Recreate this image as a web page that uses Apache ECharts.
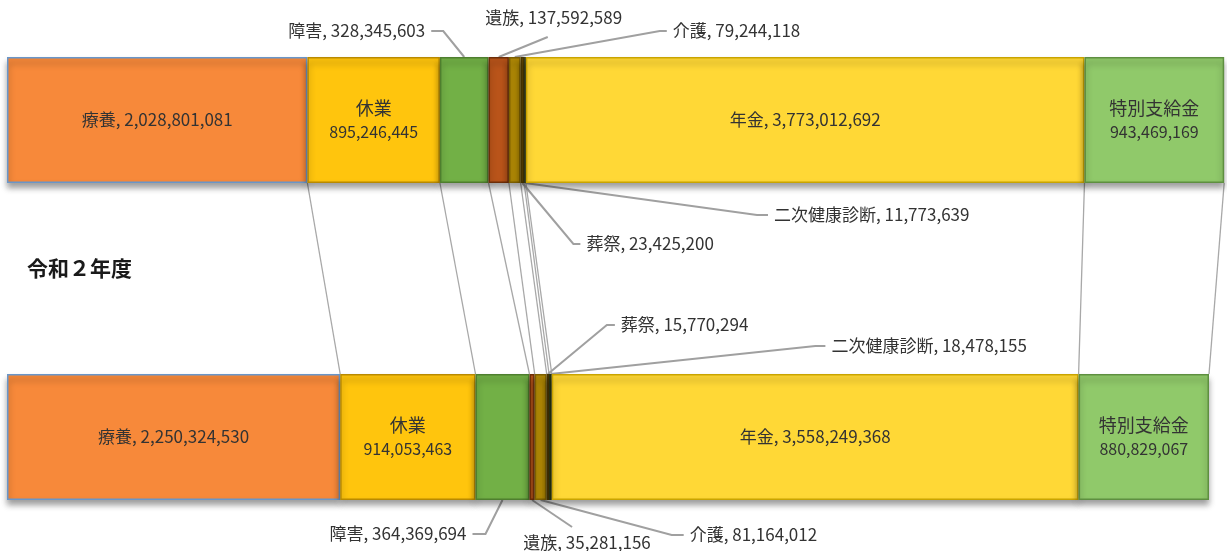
<!DOCTYPE html>
<html>
<head>
<meta charset="utf-8">
<script src="https://cdn.jsdelivr.net/npm/echarts@6/dist/echarts.min.js"></script>
<style>
  html, body { margin: 0; padding: 0; background: #ffffff; }
  #chart { width: 1227px; height: 551px; }
</style>
</head>
<body>
<div id="chart"></div>
<script>
// Benefit categories, in stacking order (left to right)
const categories = ['療養', '休業', '障害', '遺族', '介護', '葬祭', '二次健康診断', '年金', '特別支給金'];
// Upper bar amounts (yen)
const upperValues = [2028801081, 895246445, 328345603, 137592589, 79244118, 23425200, 11773639, 3773012692, 943469169];
// Lower bar amounts (yen)
const lowerValues = [2250324530, 914053463, 364369694, 35281156, 81164012, 15770294, 18478155, 3558249368, 880829067];
// Row keys for the category axis (upper bar first)
const rowKeys = ['upper', 'lower'];
// Caption drawn between the bars
const periodLabel = '令和２年度';

// Segment fill and edge colours, per category
const fillColors = ['#F7893A', '#FFC50D', '#72B046', '#B9541A', '#B38B06', '#7A5C0C', '#3E4D1C', '#FFD836', '#90C96A'];
const edgeColors = ['#6A96C8', '#B98A00', '#4E7F2E', '#6E2E08', '#7C5F00', '#4A3705', '#27310F', '#C9A400', '#5E8F40'];

const FONT = '"Noto Sans CJK JP", "Noto Sans", sans-serif';
const TEXT_COLOR = '#333333';
const BAR_H = 126;

const fmt = v => v.toLocaleString('en-US');

function cumulative(vals) {
  const out = [0];
  vals.forEach(v => out.push(out[out.length - 1] + v));
  return out;
}
const upperCum = cumulative(upperValues);
const lowerCum = cumulative(lowerValues);
const rowValues = [upperValues, lowerValues];
const rowCum = [upperCum, lowerCum];

// Label styles for segments wide enough to hold their text
const insideLabels = { 0: 'single', 1: 'double', 7: 'single', 8: 'double' };

// Outside labels: segment, row, which bar edge, and guide-line offsets (px) from the edge midpoint
const callouts = [
  { seg: 2, row: 0, side: 'top',    bend: [-21, -26], tip: [-33, -26], text: [-39, -26], align: 'right' },
  { seg: 3, row: 0, side: 'top',    bend: [49, -20],  tip: [49, -20],  text: [55, -39],  align: 'center' },
  { seg: 4, row: 0, side: 'top',    bend: [145, -26], tip: [152, -26], text: [158, -26], align: 'left' },
  { seg: 5, row: 0, side: 'bottom', bend: [51, 61],   tip: [58, 61],   text: [64, 61],   align: 'left' },
  { seg: 6, row: 0, side: 'bottom', bend: [232, 32],  tip: [243, 32],  text: [249, 32],  align: 'left' },
  { seg: 5, row: 1, side: 'top',    bend: [59, -49],  tip: [67, -49],  text: [73, -49],  align: 'left' },
  { seg: 6, row: 1, side: 'top',    bend: [265, -28], tip: [275, -28], text: [281, -28], align: 'left' },
  { seg: 2, row: 1, side: 'bottom', bend: [-17, 34],  tip: [-30, 34],  text: [-36, 34],  align: 'right' },
  { seg: 3, row: 1, side: 'bottom', bend: [40, 27],   tip: [40, 27],   text: [55, 43],   align: 'center' },
  { seg: 4, row: 1, side: 'bottom', bend: [131, 35],  tip: [143, 35],  text: [149, 35],  align: 'left' }
];

function segmentLabel(i) {
  const kind = insideLabels[i];
  if (!kind) return { show: false };
  if (kind === 'single') {
    return {
      show: true, position: 'inside', color: TEXT_COLOR, fontFamily: FONT, fontSize: 17,
      formatter: p => categories[i] + ', ' + fmt(p.value)
    };
  }
  return {
    show: true, position: 'inside', color: TEXT_COLOR, fontFamily: FONT,
    formatter: p => '{n|' + categories[i] + '}\n{v|' + fmt(p.value) + '}',
    rich: {
      n: { fontSize: 18, lineHeight: 23, color: TEXT_COLOR, fontFamily: FONT },
      v: { fontSize: 16, lineHeight: 23, color: TEXT_COLOR, fontFamily: FONT }
    }
  };
}

const barSeries = categories.map((name, i) => ({
  type: 'bar',
  name: name,
  stack: 'total',
  barWidth: BAR_H,
  clip: false,
  z: 3,
  data: [upperValues[i], lowerValues[i]],
  itemStyle: {
    color: fillColors[i],
    borderColor: edgeColors[i],
    borderWidth: 1.5,
    shadowColor: 'rgba(0,0,0,0.38)',
    shadowBlur: 6,
    shadowOffsetY: 5
  },
  label: segmentLabel(i),
  emphasis: { disabled: true },
  silent: true
}));

// Lines joining matching segment boundaries of the two bars
const connectorData = [];
for (let k = 1; k < upperCum.length; k++) {
  connectorData.push([upperCum[k], lowerCum[k], 0]);
}
const connectorSeries = {
  type: 'custom',
  z: 1,
  silent: true,
  clip: false,
  encode: { x: [0, 1], y: 2 },
  data: connectorData,
  renderItem: (params, api) => {
    const a = api.coord([api.value(0), 0]);
    const b = api.coord([api.value(1), 1]);
    return {
      type: 'line',
      shape: { x1: a[0], y1: a[1] + BAR_H / 2, x2: b[0], y2: b[1] - BAR_H / 2 },
      style: { stroke: '#A8A8A8', lineWidth: 1.3 }
    };
  }
};

// Outside labels with guide lines
const calloutData = callouts.map((c, idx) => [rowCum[c.row][c.seg], rowCum[c.row][c.seg + 1], c.row, idx]);
const calloutSeries = {
  type: 'custom',
  z: 2,
  silent: true,
  clip: false,
  encode: { x: [0, 1], y: 2 },
  data: calloutData,
  renderItem: (params, api) => {
    const c = callouts[api.value(3)];
    const p = api.coord([(api.value(0) + api.value(1)) / 2, api.value(2)]);
    const ax = p[0];
    const ay = c.side === 'top' ? p[1] - BAR_H / 2 : p[1] + BAR_H / 2;
    const value = rowValues[c.row][c.seg];
    return {
      type: 'group',
      children: [
        {
          type: 'polyline',
          shape: { points: [[ax, ay], [ax + c.bend[0], ay + c.bend[1]], [ax + c.tip[0], ay + c.tip[1]]] },
          style: { stroke: '#A0A0A0', lineWidth: 2, fill: null }
        },
        {
          type: 'text',
          style: {
            text: categories[c.seg] + ', ' + fmt(value),
            x: ax + c.text[0], y: ay + c.text[1],
            align: c.align, verticalAlign: 'middle',
            fontFamily: FONT, fontSize: 17, fill: TEXT_COLOR
          }
        }
      ]
    };
  }
};

const chart = echarts.init(document.getElementById('chart'), null, { renderer: 'canvas' });
chart.setOption({
  backgroundColor: '#ffffff',
  animation: false,
  // bar centres sit on the two category ticks (y = 120 and y = 437)
  grid: { left: 7, width: 1220, top: 120, height: 317, outerBoundsMode: 'none', containLabel: false },
  xAxis: { type: 'value', min: 0, max: 8240000000, show: false },
  yAxis: { type: 'category', data: rowKeys, inverse: true, boundaryGap: false, show: false },
  graphic: [{
    type: 'text',
    left: 27,
    top: 258,
    style: { text: periodLabel, fontFamily: FONT, fontSize: 21, fontWeight: 'bold', fill: '#1a1a1a' }
  }],
  series: [connectorSeries, calloutSeries].concat(barSeries)
});
</script>
</body>
</html>
